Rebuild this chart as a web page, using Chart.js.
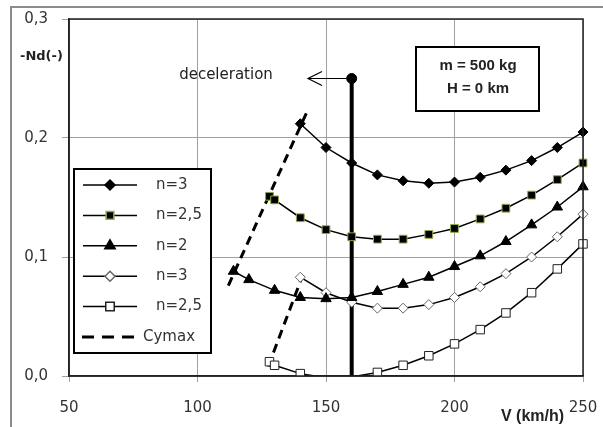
<!DOCTYPE html>
<html>
<head>
<meta charset="utf-8">
<script src="https://cdn.jsdelivr.net/npm/chart.js@4/dist/chart.umd.min.js"></script>
<style>
  html, body { margin: 0; padding: 0; background: #fff; }
  #wrap { width: 603px; height: 427px; position: relative; }
</style>
</head>
<body>
<div id="wrap"><canvas id="chart"></canvas></div>
<script>
'use strict';

// ─── Data ─────────────────────────────────────────────────────────────────────
const V_A = [140, 150, 160, 170, 180, 190, 200, 210, 220, 230, 240, 250];
const V_B = [128, 130, 140, 150, 160, 170, 180, 190, 200, 210, 220, 230, 240, 250];
const V_C = [114, 120, 130, 140, 150, 160, 170, 180, 190, 200, 210, 220, 230, 240, 250];

const ND_N3_FILLED   = [0.212, 0.192, 0.179, 0.169, 0.164, 0.162, 0.163, 0.167, 0.173, 0.181, 0.192, 0.205];
const ND_N25_FILLED  = [0.151, 0.148, 0.133, 0.123, 0.117, 0.115, 0.115, 0.119, 0.124, 0.132, 0.141, 0.152, 0.165, 0.179];
const ND_N2          = [0.088, 0.081, 0.072, 0.066, 0.065, 0.066, 0.071, 0.077, 0.083, 0.092, 0.101, 0.113, 0.127, 0.142, 0.159];
const ND_N3_OPEN     = [0.083, 0.070, 0.062, 0.057, 0.057, 0.060, 0.066, 0.075, 0.086, 0.100, 0.117, 0.136];
const ND_N25_OPEN    = [0.012, 0.009, 0.002, -0.0015, -0.0008, 0.003, 0.009, 0.017, 0.027, 0.039, 0.053, 0.070, 0.090, 0.111];

const CYMAX_V_UPPER  = [112, 142.6];
const CYMAX_UPPER    = [0.076, 0.222];
const CYMAX_V_LOWER  = [127.5, 141];
const CYMAX_LOWER    = [0.008, 0.085];

const DECEL_V        = [160, 160];
const DECEL_ND       = [0, 0.25];
const ARROW_TO_V     = 143;

const X_TICKS = [50, 100, 150, 200, 250];
const Y_TICKS = [0, 0.1, 0.2, 0.3];
const LABELS  = ['n=3', 'n=2,5', 'n=2', 'n=3', 'n=2,5', 'Cymax'];

const pts = (xs, ys) => xs.map((x, i) => ({ x, y: ys[i] }));

// ─── Datasets ─────────────────────────────────────────────────────────────────
const CLIP = { left: 12, top: 12, right: 12, bottom: 0 };
const base = { borderColor: '#000', borderWidth: 1.5, showLine: true, clip: CLIP, pointBorderWidth: 1 };

const datasets = [
  { ...base, label: LABELS[0], data: pts(V_A, ND_N3_FILLED), pointStyle: 'rectRot', pointRadius: 5,
    pointBackgroundColor: '#000', pointBorderColor: '#000' },
  { ...base, label: LABELS[1], data: pts(V_B, ND_N25_FILLED), pointStyle: 'rect', pointRadius: 5.5,
    pointBackgroundColor: '#000', pointBorderColor: '#8faa4c' },
  { ...base, label: LABELS[2], data: pts(V_C, ND_N2), pointStyle: 'triangle', pointRadius: 6,
    pointBackgroundColor: '#000', pointBorderColor: '#000' },
  { ...base, label: LABELS[3], data: pts(V_A, ND_N3_OPEN), pointStyle: 'rectRot', pointRadius: 5,
    pointBackgroundColor: '#fff', pointBorderColor: '#666' },
  { ...base, label: LABELS[4], data: pts(V_B, ND_N25_OPEN), pointStyle: 'rect',
    pointRadius: c => (c.raw && c.raw.y < 0 ? 0 : 6),
    pointBackgroundColor: '#fff', pointBorderColor: '#222' },
  { label: LABELS[5], data: pts(CYMAX_V_UPPER, CYMAX_UPPER), showLine: true, borderColor: '#000',
    borderWidth: 3, borderDash: [9, 6], pointRadius: 0, clip: CLIP },
  { label: '', data: pts(CYMAX_V_LOWER, CYMAX_LOWER), showLine: true, borderColor: '#000',
    borderWidth: 3, borderDash: [9, 6], pointRadius: 0, clip: CLIP },
  { label: '', data: pts(DECEL_V, DECEL_ND), showLine: true, borderColor: '#000', borderWidth: 4,
    pointRadius: [0, 5], pointBorderWidth: 1, pointBackgroundColor: '#000', pointBorderColor: '#000', clip: false },
];

// ─── Extras: frame, legend, notes ─────────────────────────────────────────────
const extras = {
  id: 'extras',
  beforeDraw(chart) {
    const ctx = chart.ctx;
    ctx.save();
    ctx.fillStyle = '#fff';
    ctx.fillRect(0, 0, chart.width, chart.height);
    ctx.strokeStyle = '#8c8c8c';
    ctx.lineWidth = 2;
    ctx.strokeRect(11, 7, chart.width + 20, chart.height + 20);
    ctx.restore();
  },
  afterDraw(chart) {
    const ctx = chart.ctx;
    const a = chart.chartArea;
    const xs = chart.scales.x, ys = chart.scales.y;
    ctx.save();

    // plot frame
    ctx.strokeStyle = '#222';
    ctx.lineWidth = 1.5;
    ctx.strokeRect(a.left, a.top, a.right - a.left, a.bottom - a.top);

    // deceleration arrow
    const ay = ys.getPixelForValue(DECEL_ND[1]);
    const ax0 = xs.getPixelForValue(DECEL_V[1]);
    const ax1 = xs.getPixelForValue(ARROW_TO_V);
    ctx.strokeStyle = '#000';
    ctx.lineWidth = 1.2;
    ctx.beginPath();
    ctx.moveTo(ax0 - 5, ay);
    ctx.lineTo(ax1, ay);
    ctx.moveTo(ax1 + 14, ay - 7);
    ctx.lineTo(ax1, ay);
    ctx.lineTo(ax1 + 14, ay + 7);
    ctx.stroke();
    ctx.fillStyle = '#222';
    ctx.font = '15px "DejaVu Sans"';
    ctx.textAlign = 'center';
    ctx.textBaseline = 'middle';
    ctx.fillText('deceleration', 226, ay - 3);

    // info box
    ctx.fillStyle = '#fff';
    ctx.fillRect(416, 47, 123, 64);
    ctx.strokeStyle = '#000';
    ctx.lineWidth = 2;
    ctx.strokeRect(416, 47, 123, 64);
    ctx.fillStyle = '#222';
    ctx.font = 'bold 15px "Liberation Sans"';
    ctx.fillText('m = 500 kg', 478, 66);
    ctx.fillText('H = 0 km', 478, 89);

    // axis titles
    ctx.font = 'bold 13px "DejaVu Sans"';
    ctx.textAlign = 'left';
    ctx.fillText('-Nd(-)', 20, 57);
    ctx.font = 'bold 16px "Liberation Sans"';
    ctx.fillText('V (km/h)', 501, 417);

    // legend
    const lx = 74, ly = 169, lw = 137, lh = 184;
    ctx.fillStyle = '#fff';
    ctx.fillRect(lx, ly, lw, lh);
    ctx.strokeStyle = '#000';
    ctx.lineWidth = 2;
    ctx.strokeRect(lx, ly, lw, lh);
    ctx.font = '15px "DejaVu Sans"';
    ctx.textBaseline = 'middle';
    LABELS.forEach((lab, i) => {
      const y = 185 + i * 30.4;
      const ds = datasets[i];
      ctx.strokeStyle = '#000';
      if (i === 5) {
        ctx.lineWidth = 3;
        ctx.setLineDash([12, 8]);
        ctx.beginPath();
        ctx.moveTo(82, y); ctx.lineTo(137, y);
        ctx.stroke();
        ctx.setLineDash([]);
        ctx.fillStyle = '#333';
        ctx.fillText(lab, 143, y);
        return;
      }
      ctx.lineWidth = 1.5;
      ctx.beginPath();
      ctx.moveTo(83, y); ctx.lineTo(137, y);
      ctx.stroke();
      ctx.fillStyle = ds.pointBackgroundColor;
      ctx.strokeStyle = ds.pointBorderColor;
      const r = typeof ds.pointRadius === 'function' ? 6 : ds.pointRadius;
      Chart.helpers.drawPoint(ctx, { pointStyle: ds.pointStyle, radius: r, rotation: 0, borderWidth: 1 }, 110, y);
      ctx.fillStyle = '#333';
      ctx.fillText(lab, 156, y);
    });
    ctx.restore();
  }
};

// ─── Chart ────────────────────────────────────────────────────────────────────
const tickFont = { family: '"DejaVu Sans"', size: 15 };

new Chart(document.getElementById('chart'), {
  type: 'scatter',
  data: { datasets },
  options: {
    responsive: true,
    maintainAspectRatio: false,
    animation: false,
    layout: { padding: { left: 0, top: 19, right: 20, bottom: 0 } },
    plugins: { legend: { display: false }, tooltip: { enabled: false } },
    scales: {
      x: {
        type: 'linear', min: X_TICKS[0], max: X_TICKS[X_TICKS.length - 1],
        afterBuildTicks: s => { s.ticks = X_TICKS.map(v => ({ value: v })); },
        afterFit: s => { s.height = 51; s.paddingLeft = 0; s.paddingRight = 0; },
        grid: { color: '#a0a0a0', lineWidth: 1, tickLength: 6 },
        border: { color: '#222', width: 1.5 },
        ticks: { font: tickFont, color: '#333', padding: 17, maxRotation: 0 }
      },
      y: {
        type: 'linear', min: Y_TICKS[0], max: Y_TICKS[Y_TICKS.length - 1],
        afterBuildTicks: s => { s.ticks = Y_TICKS.map(v => ({ value: v })); },
        afterFit: s => { s.width = 69; s.paddingTop = 0; s.paddingBottom = 0; },
        grid: { color: '#a0a0a0', lineWidth: 1, tickLength: 7 },
        border: { color: '#222', width: 1.5 },
        ticks: { font: tickFont, color: '#333', padding: 14,
                 callback: v => v.toFixed(1).replace('.', ',') }
      }
    }
  },
  plugins: [extras]
});
</script>
</body>
</html>
